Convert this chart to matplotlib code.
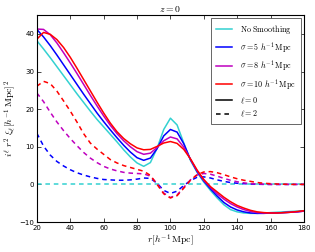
import matplotlib
matplotlib.use('Agg')
import matplotlib.pyplot as plt
import numpy as np

# separation grid, h^-1 Mpc
r = np.arange(20, 181, 4)

# l=0 monopole, r^2 xi_0
mono_none = [38.2, 36.0, 33.7, 31.3, 28.9, 26.5, 24.1, 21.8, 19.5, 17.3, 15.3,
             13.3, 11.3, 9.2, 7.3, 5.7, 4.8, 5.8, 9.6, 14.6, 17.6, 15.8, 11.0,
             6.4, 3.2, 0.6, -1.6, -3.6, -5.4, -6.7, -7.3, -7.6, -7.7, -7.7,
             -7.6, -7.5, -7.4, -7.3, -7.2, -7.1, -7.0]
mono_s5 = [41.2, 39.2, 36.9, 34.4, 31.8, 29.2, 26.6, 24.0, 21.5, 19.0, 16.7,
           14.5, 12.4, 10.4, 8.6, 7.1, 6.4, 7.0, 9.5, 12.9, 14.6, 13.9, 10.8,
           6.6, 3.4, 0.9, -1.2, -3.1, -4.8, -6.0, -6.8, -7.3, -7.6, -7.7,
           -7.7, -7.6, -7.6, -7.5, -7.4, -7.3, -7.1]
mono_s8 = [41.3, 41.2, 39.8, 37.6, 35.0, 32.3, 29.5, 26.6, 23.7, 20.9, 18.2,
           15.7, 13.5, 11.6, 10.0, 8.7, 8.0, 8.3, 9.8, 11.6, 12.6, 12.1, 9.9,
           6.7, 3.6, 1.1, -0.8, -2.5, -3.9, -5.1, -6.0, -6.7, -7.2, -7.5,
           -7.6, -7.6, -7.6, -7.5, -7.4, -7.3, -7.1]
mono_s10 = [38.6, 40.4, 39.9, 38.5, 36.4, 33.8, 30.9, 27.9, 24.9, 21.9, 19.0,
            16.3, 14.0, 12.2, 10.8, 9.7, 9.2, 9.3, 10.1, 11.0, 11.4, 10.9, 9.3,
            6.8, 3.8, 1.3, -0.6, -2.0, -3.4, -4.6, -5.6, -6.3, -6.9, -7.3,
            -7.5, -7.6, -7.6, -7.5, -7.4, -7.2, -7.0]

# l=2 quadrupole, i^2 r^2 xi_2
quad_none = [0.0] * 41
quad_s5 = [13.6, 10.2, 7.8, 6.1, 4.9, 3.9, 3.1, 2.5, 2.0, 1.6, 1.3, 1.2, 1.1,
           1.1, 1.2, 1.4, 1.7, 1.6, 0.3, -1.6, -2.4, -1.8, -0.3, 1.0, 1.9, 2.0,
           1.7, 1.2, 0.8, 0.5, 0.3, 0.2, 0.1, 0.05, 0.0, 0.0, 0.0, 0.0, 0.0,
           0.0, 0.0]
quad_s8 = [24.3, 22.0, 19.2, 16.6, 14.3, 12.2, 10.3, 8.5, 7.0, 5.8, 4.8, 4.1,
           3.6, 3.2, 3.0, 2.9, 2.8, 2.2, 0.2, -2.3, -3.5, -2.8, -0.8, 1.2, 2.5,
           2.9, 2.7, 2.2, 1.6, 1.1, 0.7, 0.4, 0.2, 0.1, 0.05, 0.0, 0.0, 0.0,
           0.0, 0.0, 0.0]
quad_s10 = [26.1, 27.4, 26.8, 24.8, 22.2, 19.5, 16.6, 13.5, 11.0, 9.4, 8.0,
            6.6, 5.7, 5.0, 4.5, 4.0, 3.5, 2.4, 0.0, -2.5, -3.6, -3.0, -1.0,
            1.1, 2.6, 3.3, 3.4, 3.1, 2.6, 2.0, 1.5, 1.1, 0.8, 0.5, 0.3, 0.2,
            0.1, 0.05, 0.0, 0.0, 0.0]

labels = [r'$\mathrm{No\ Smoothing}$',
          r'$\sigma=5\ h^{-1}\,\mathrm{Mpc}$',
          r'$\sigma=8\ h^{-1}\,\mathrm{Mpc}$',
          r'$\sigma=10\ h^{-1}\,\mathrm{Mpc}$']
colors = [(0.2, 0.82, 0.82), 'b', 'm', 'r']

plt.rcParams['mathtext.fontset'] = 'cm'
plt.rcParams['font.size'] = 5
plt.rcParams['xtick.direction'] = 'in'
plt.rcParams['ytick.direction'] = 'in'
plt.rcParams['xtick.top'] = True
plt.rcParams['ytick.right'] = True

fig = plt.figure(figsize=(3.15, 2.52), dpi=100)
ax = fig.add_axes([0.117, 0.119, 0.848, 0.821])

monos = [mono_none, mono_s5, mono_s8, mono_s10]
quads = [quad_none, quad_s5, quad_s8, quad_s10]
for m, q, c, lab in zip(monos, quads, colors, labels):
	ax.plot(r, m, color=c, lw=1.1, label=lab)
	ax.plot(r, q, color=c, lw=1.1, ls='--', dashes=(3, 2.5))

# extra legend entries for the multipoles
ax.plot([], [], color='k', lw=1.1, label=r'$\ell=0$')
ax.plot([], [], color='k', lw=1.1, ls='--', dashes=(3, 2.5), label=r'$\ell=2$')

ax.set_xlim(20, 180)
ax.set_ylim(-10, 45)
ax.set_xticks(range(20, 181, 20))
ax.set_yticks(range(-10, 41, 10))
ax.tick_params(length=3, width=0.5, pad=2, labelsize=5)
for s in ax.spines.values():
	s.set_linewidth(0.8)

ax.set_xlabel(r'$r[h^{-1}\,\mathrm{Mpc}]$', fontsize=7, labelpad=1)
ax.set_ylabel(r'$i^\ell\ r^2\ \xi_\ell[h^{-1}\,\mathrm{Mpc}]^2$', fontsize=7, labelpad=1)
ax.set_title(r'$z=0$', fontsize=7, pad=2)

leg = ax.legend(loc='upper right', fontsize=5.8, handlelength=2.0,
		handletextpad=1.0, labelspacing=0.45, borderpad=0.6,
		borderaxespad=0.4, fancybox=False, framealpha=1)
leg.get_frame().set_edgecolor('0.3')
leg.get_frame().set_linewidth(0.6)

fig.savefig('out.png', dpi=100)
